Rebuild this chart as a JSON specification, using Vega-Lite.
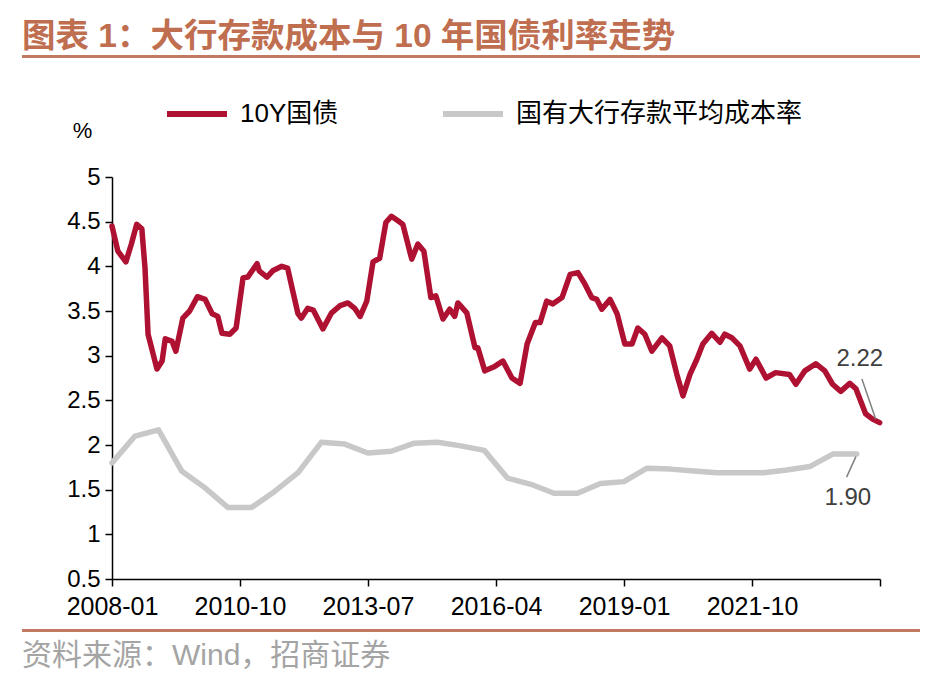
{
  "$schema": "https://vega.github.io/schema/vega-lite/v6.json",
  "padding": {"left": 22, "top": 20, "right": 0, "bottom": 0},
  "config": {"font": "Liberation Sans, Noto Sans CJK SC", "view": {"stroke": null}},
  "datasets": {
    "lines": [
      {"d": "2008-01-01", "s": "10Y国债", "v": 4.45},
      {"d": "2008-02-16", "s": "10Y国债", "v": 4.17},
      {"d": "2008-04-19", "s": "10Y国债", "v": 4.05},
      {"d": "2008-06-01", "s": "10Y国债", "v": 4.25},
      {"d": "2008-07-13", "s": "10Y国债", "v": 4.47},
      {"d": "2008-08-22", "s": "10Y国债", "v": 4.42},
      {"d": "2008-09-16", "s": "10Y国债", "v": 3.98},
      {"d": "2008-10-10", "s": "10Y国债", "v": 3.24},
      {"d": "2008-12-19", "s": "10Y国债", "v": 2.85},
      {"d": "2009-01-28", "s": "10Y国债", "v": 2.94},
      {"d": "2009-02-22", "s": "10Y国债", "v": 3.19},
      {"d": "2009-04-16", "s": "10Y国债", "v": 3.16},
      {"d": "2009-05-16", "s": "10Y国债", "v": 3.05},
      {"d": "2009-07-10", "s": "10Y国债", "v": 3.42},
      {"d": "2009-09-01", "s": "10Y国债", "v": 3.50},
      {"d": "2009-11-01", "s": "10Y国债", "v": 3.66},
      {"d": "2010-01-01", "s": "10Y国债", "v": 3.63},
      {"d": "2010-02-25", "s": "10Y国债", "v": 3.47},
      {"d": "2010-04-10", "s": "10Y国债", "v": 3.44},
      {"d": "2010-05-13", "s": "10Y国债", "v": 3.25},
      {"d": "2010-07-13", "s": "10Y国债", "v": 3.24},
      {"d": "2010-09-01", "s": "10Y国债", "v": 3.31},
      {"d": "2010-10-25", "s": "10Y国债", "v": 3.87},
      {"d": "2010-12-01", "s": "10Y国债", "v": 3.88},
      {"d": "2011-02-13", "s": "10Y国债", "v": 4.03},
      {"d": "2011-03-01", "s": "10Y国债", "v": 3.95},
      {"d": "2011-05-01", "s": "10Y国债", "v": 3.88},
      {"d": "2011-06-15", "s": "10Y国债", "v": 3.95},
      {"d": "2011-08-25", "s": "10Y国债", "v": 4.00},
      {"d": "2011-10-10", "s": "10Y国债", "v": 3.98},
      {"d": "2011-11-20", "s": "10Y国债", "v": 3.72},
      {"d": "2011-12-30", "s": "10Y国债", "v": 3.47},
      {"d": "2012-01-25", "s": "10Y国债", "v": 3.42},
      {"d": "2012-03-16", "s": "10Y国债", "v": 3.53},
      {"d": "2012-04-28", "s": "10Y国债", "v": 3.51},
      {"d": "2012-07-13", "s": "10Y国债", "v": 3.30},
      {"d": "2012-09-19", "s": "10Y国债", "v": 3.48},
      {"d": "2012-11-25", "s": "10Y国债", "v": 3.56},
      {"d": "2013-01-25", "s": "10Y国债", "v": 3.59},
      {"d": "2013-03-19", "s": "10Y国债", "v": 3.53},
      {"d": "2013-05-01", "s": "10Y国债", "v": 3.44},
      {"d": "2013-06-22", "s": "10Y国债", "v": 3.61},
      {"d": "2013-08-10", "s": "10Y国债", "v": 4.05},
      {"d": "2013-10-01", "s": "10Y国债", "v": 4.09},
      {"d": "2013-11-19", "s": "10Y国债", "v": 4.49},
      {"d": "2014-01-01", "s": "10Y国债", "v": 4.56},
      {"d": "2014-02-22", "s": "10Y国债", "v": 4.51},
      {"d": "2014-04-01", "s": "10Y国债", "v": 4.47},
      {"d": "2014-06-10", "s": "10Y国债", "v": 4.08},
      {"d": "2014-07-28", "s": "10Y国债", "v": 4.25},
      {"d": "2014-09-13", "s": "10Y国债", "v": 4.17},
      {"d": "2014-11-07", "s": "10Y国债", "v": 3.65},
      {"d": "2014-12-16", "s": "10Y国债", "v": 3.67},
      {"d": "2015-02-10", "s": "10Y国债", "v": 3.41},
      {"d": "2015-04-04", "s": "10Y国债", "v": 3.52},
      {"d": "2015-05-13", "s": "10Y国债", "v": 3.44},
      {"d": "2015-06-07", "s": "10Y国债", "v": 3.59},
      {"d": "2015-08-16", "s": "10Y国债", "v": 3.48},
      {"d": "2015-10-19", "s": "10Y国债", "v": 3.09},
      {"d": "2015-11-10", "s": "10Y国债", "v": 3.09},
      {"d": "2016-01-04", "s": "10Y国债", "v": 2.83},
      {"d": "2016-03-22", "s": "10Y国债", "v": 2.88},
      {"d": "2016-05-25", "s": "10Y国债", "v": 2.94},
      {"d": "2016-08-04", "s": "10Y国债", "v": 2.75},
      {"d": "2016-10-07", "s": "10Y国债", "v": 2.69},
      {"d": "2016-12-01", "s": "10Y国债", "v": 3.13},
      {"d": "2017-02-04", "s": "10Y国债", "v": 3.37},
      {"d": "2017-03-13", "s": "10Y国债", "v": 3.37},
      {"d": "2017-05-04", "s": "10Y国债", "v": 3.61},
      {"d": "2017-06-22", "s": "10Y国债", "v": 3.58},
      {"d": "2017-09-01", "s": "10Y国债", "v": 3.65},
      {"d": "2017-11-04", "s": "10Y国债", "v": 3.91},
      {"d": "2018-01-04", "s": "10Y国债", "v": 3.93},
      {"d": "2018-02-28", "s": "10Y国债", "v": 3.80},
      {"d": "2018-04-22", "s": "10Y国债", "v": 3.65},
      {"d": "2018-06-01", "s": "10Y国债", "v": 3.63},
      {"d": "2018-07-10", "s": "10Y国债", "v": 3.52},
      {"d": "2018-09-13", "s": "10Y国债", "v": 3.63},
      {"d": "2018-11-07", "s": "10Y国债", "v": 3.47},
      {"d": "2019-01-07", "s": "10Y国债", "v": 3.13},
      {"d": "2019-03-04", "s": "10Y国债", "v": 3.13},
      {"d": "2019-04-19", "s": "10Y国债", "v": 3.31},
      {"d": "2019-06-13", "s": "10Y国债", "v": 3.24},
      {"d": "2019-08-07", "s": "10Y国债", "v": 3.05},
      {"d": "2019-10-25", "s": "10Y国债", "v": 3.20},
      {"d": "2019-12-25", "s": "10Y国债", "v": 3.11},
      {"d": "2020-02-19", "s": "10Y国债", "v": 2.79},
      {"d": "2020-04-07", "s": "10Y国债", "v": 2.55},
      {"d": "2020-06-01", "s": "10Y国债", "v": 2.79},
      {"d": "2020-07-25", "s": "10Y国债", "v": 2.96},
      {"d": "2020-09-10", "s": "10Y国债", "v": 3.13},
      {"d": "2020-11-19", "s": "10Y国债", "v": 3.25},
      {"d": "2021-01-22", "s": "10Y国债", "v": 3.15},
      {"d": "2021-03-01", "s": "10Y国债", "v": 3.24},
      {"d": "2021-04-25", "s": "10Y国债", "v": 3.20},
      {"d": "2021-06-28", "s": "10Y国债", "v": 3.11},
      {"d": "2021-09-13", "s": "10Y国债", "v": 2.85},
      {"d": "2021-11-01", "s": "10Y国债", "v": 2.96},
      {"d": "2022-01-19", "s": "10Y国债", "v": 2.75},
      {"d": "2022-04-04", "s": "10Y国债", "v": 2.81},
      {"d": "2022-07-22", "s": "10Y国债", "v": 2.79},
      {"d": "2022-09-10", "s": "10Y国债", "v": 2.68},
      {"d": "2022-11-19", "s": "10Y国债", "v": 2.83},
      {"d": "2023-02-13", "s": "10Y国债", "v": 2.91},
      {"d": "2023-04-25", "s": "10Y国债", "v": 2.83},
      {"d": "2023-06-25", "s": "10Y国债", "v": 2.68},
      {"d": "2023-08-28", "s": "10Y国债", "v": 2.60},
      {"d": "2023-11-07", "s": "10Y国债", "v": 2.69},
      {"d": "2023-12-25", "s": "10Y国债", "v": 2.63},
      {"d": "2024-03-10", "s": "10Y国债", "v": 2.35},
      {"d": "2024-05-04", "s": "10Y国债", "v": 2.29},
      {"d": "2024-06-28", "s": "10Y国债", "v": 2.25},
      {"d": "2008-01-01", "s": "国有大行存款平均成本率", "v": 1.80},
      {"d": "2008-06-30", "s": "国有大行存款平均成本率", "v": 2.10},
      {"d": "2008-12-31", "s": "国有大行存款平均成本率", "v": 2.17},
      {"d": "2009-06-30", "s": "国有大行存款平均成本率", "v": 1.71},
      {"d": "2009-12-31", "s": "国有大行存款平均成本率", "v": 1.52},
      {"d": "2010-06-30", "s": "国有大行存款平均成本率", "v": 1.30},
      {"d": "2010-12-31", "s": "国有大行存款平均成本率", "v": 1.30},
      {"d": "2011-06-30", "s": "国有大行存款平均成本率", "v": 1.48},
      {"d": "2011-12-31", "s": "国有大行存款平均成本率", "v": 1.69},
      {"d": "2012-06-30", "s": "国有大行存款平均成本率", "v": 2.03},
      {"d": "2012-12-31", "s": "国有大行存款平均成本率", "v": 2.01},
      {"d": "2013-06-30", "s": "国有大行存款平均成本率", "v": 1.91},
      {"d": "2013-12-31", "s": "国有大行存款平均成本率", "v": 1.93},
      {"d": "2014-06-30", "s": "国有大行存款平均成本率", "v": 2.02},
      {"d": "2014-12-31", "s": "国有大行存款平均成本率", "v": 2.03},
      {"d": "2015-06-30", "s": "国有大行存款平均成本率", "v": 1.99},
      {"d": "2015-12-31", "s": "国有大行存款平均成本率", "v": 1.94},
      {"d": "2016-06-30", "s": "国有大行存款平均成本率", "v": 1.63},
      {"d": "2016-12-31", "s": "国有大行存款平均成本率", "v": 1.56},
      {"d": "2017-06-30", "s": "国有大行存款平均成本率", "v": 1.46},
      {"d": "2017-12-31", "s": "国有大行存款平均成本率", "v": 1.46},
      {"d": "2018-06-30", "s": "国有大行存款平均成本率", "v": 1.57},
      {"d": "2018-12-31", "s": "国有大行存款平均成本率", "v": 1.59},
      {"d": "2019-06-30", "s": "国有大行存款平均成本率", "v": 1.74},
      {"d": "2019-12-31", "s": "国有大行存款平均成本率", "v": 1.73},
      {"d": "2020-06-30", "s": "国有大行存款平均成本率", "v": 1.71},
      {"d": "2020-12-31", "s": "国有大行存款平均成本率", "v": 1.69},
      {"d": "2021-06-30", "s": "国有大行存款平均成本率", "v": 1.69},
      {"d": "2021-12-31", "s": "国有大行存款平均成本率", "v": 1.69},
      {"d": "2022-06-30", "s": "国有大行存款平均成本率", "v": 1.72},
      {"d": "2022-12-31", "s": "国有大行存款平均成本率", "v": 1.76},
      {"d": "2023-06-30", "s": "国有大行存款平均成本率", "v": 1.90},
      {"d": "2023-12-31", "s": "国有大行存款平均成本率", "v": 1.90}
    ],
    "leaders": [
      {"d": "2024-02-10", "d2": "2024-05-28", "v": 2.74, "v2": 2.29},
      {"d": "2023-12-25", "d2": "2023-10-13", "v": 1.87, "v2": 1.64}
    ],
    "labels": [
      {"d": "2024-01-25", "v": 2.96, "t": "2.22"},
      {"d": "2023-10-22", "v": 1.41, "t": "1.90"}
    ]
  },
  "vconcat": [
    {
      "width": 898,
      "height": 3,
      "view": {"fill": "#C27A62", "stroke": null},
      "title": {"text": "图表 1：大行存款成本与 10 年国债利率走势", "anchor": "start", "fontSize": 33.5, "fontWeight": "bold", "color": "#BF6E50", "offset": -4},
      "data": {"values": [{}]},
      "mark": "text",
      "encoding": {"text": {"value": ""}}
    },
    {
      "vconcat": [
        {
          "hconcat": [
            {
              "width": 90,
              "height": 402,
              "data": {"values": [{}]},
              "mark": "text",
              "encoding": {"text": {"value": ""}}
            },
            {
              "width": 768,
              "height": 402,
              "encoding": {
                "x": {
                  "field": "d", "type": "temporal",
                  "scale": {"type": "utc", "domain": [{"year": 2008, "month": 1, "date": 1, "utc": true}, {"year": 2024, "month": 7, "date": 1, "utc": true}]},
                  "axis": {
                    "title": null, "grid": false,
                    "values": [
                      {"year": 2008, "month": 1, "date": 1, "utc": true},
                      {"year": 2010, "month": 10, "date": 1, "utc": true},
                      {"year": 2013, "month": 7, "date": 1, "utc": true},
                      {"year": 2016, "month": 4, "date": 1, "utc": true},
                      {"year": 2019, "month": 1, "date": 1, "utc": true},
                      {"year": 2021, "month": 10, "date": 1, "utc": true},
                      {"year": 2024, "month": 7, "date": 1, "utc": true}
                    ],
                    "labelExpr": "utcFormat(datum.value, '%Y-%m') == '2024-07' ? '' : utcFormat(datum.value, '%Y-%m')",
                    "domainColor": "#000", "domainWidth": 1.5, "tickColor": "#000", "tickWidth": 1.5, "tickSize": 7,
                    "labelFontSize": 25, "labelColor": "#000", "labelPadding": 8, "labelAngle": 0, "labelOverlap": false, "labelFlush": false
                  }
                },
                "y": {
                  "field": "v", "type": "quantitative",
                  "scale": {"domain": [0.5, 5], "nice": false, "zero": false},
                  "axis": {
                    "values": [0.5, 1, 1.5, 2, 2.5, 3, 3.5, 4, 4.5, 5],
                    "format": "~g", "grid": false,
                    "title": "%", "titleAngle": 0, "titleX": -30, "titleY": -47, "titleFontSize": 22, "titleFontWeight": "normal", "titleColor": "#000", "titleAlign": "center", "titleBaseline": "middle",
                    "domainColor": "#000", "domainWidth": 1.5, "tickColor": "#000", "tickWidth": 1.5, "tickSize": 7,
                    "labelFontSize": 24, "labelColor": "#000", "labelPadding": 5
                  }
                }
              },
              "layer": [
                {
                  "data": {"name": "lines"},
                  "mark": {"type": "line", "strokeWidth": 5.5, "strokeJoin": "round", "strokeCap": "round"},
                  "encoding": {
                    "color": {
                      "field": "s", "type": "nominal",
                      "scale": {"domain": ["10Y国债", "国有大行存款平均成本率"], "range": ["#AE1131", "#C8C8C8"]},
                      "legend": {
                        "orient": "none", "legendX": 52, "legendY": -96, "direction": "horizontal", "title": null,
                        "symbolType": "stroke", "symbolStrokeWidth": 6, "symbolSize": 3600,
                        "labelFontSize": 26, "labelColor": "#000", "labelLimit": 0, "columnPadding": 92, "labelOffset": 10, "padding": 0
                      }
                    }
                  }
                },
                {
                  "data": {"name": "leaders"},
                  "mark": {"type": "rule", "color": "#808080", "strokeWidth": 1.5},
                  "encoding": {"x2": {"field": "d2"}, "y2": {"field": "v2"}}
                },
                {
                  "data": {"name": "labels"},
                  "mark": {"type": "text", "fontSize": 24, "color": "#404040"},
                  "encoding": {"text": {"field": "t"}}
                }
              ]
            }
          ],
          "spacing": 0,
          "bounds": "flush",
          "resolve": {"scale": {"color": "independent"}, "legend": {"color": "independent"}}
        },
        {
          "width": 898,
          "height": 3,
          "view": {"fill": "#C27A62", "stroke": null},
          "title": {"text": "资料来源：Wind，招商证券", "orient": "bottom", "anchor": "start", "fontSize": 30, "fontWeight": "normal", "color": "#A4A4A4", "offset": 5},
          "data": {"values": [{}]},
          "mark": "text",
          "encoding": {"text": {"value": ""}}
        }
      ],
      "spacing": 5,
      "bounds": "full",
      "resolve": {"scale": {"color": "independent"}, "legend": {"color": "independent"}}
    }
  ],
  "spacing": 119,
  "bounds": "flush",
  "resolve": {"scale": {"color": "independent"}, "legend": {"color": "independent"}}
}
